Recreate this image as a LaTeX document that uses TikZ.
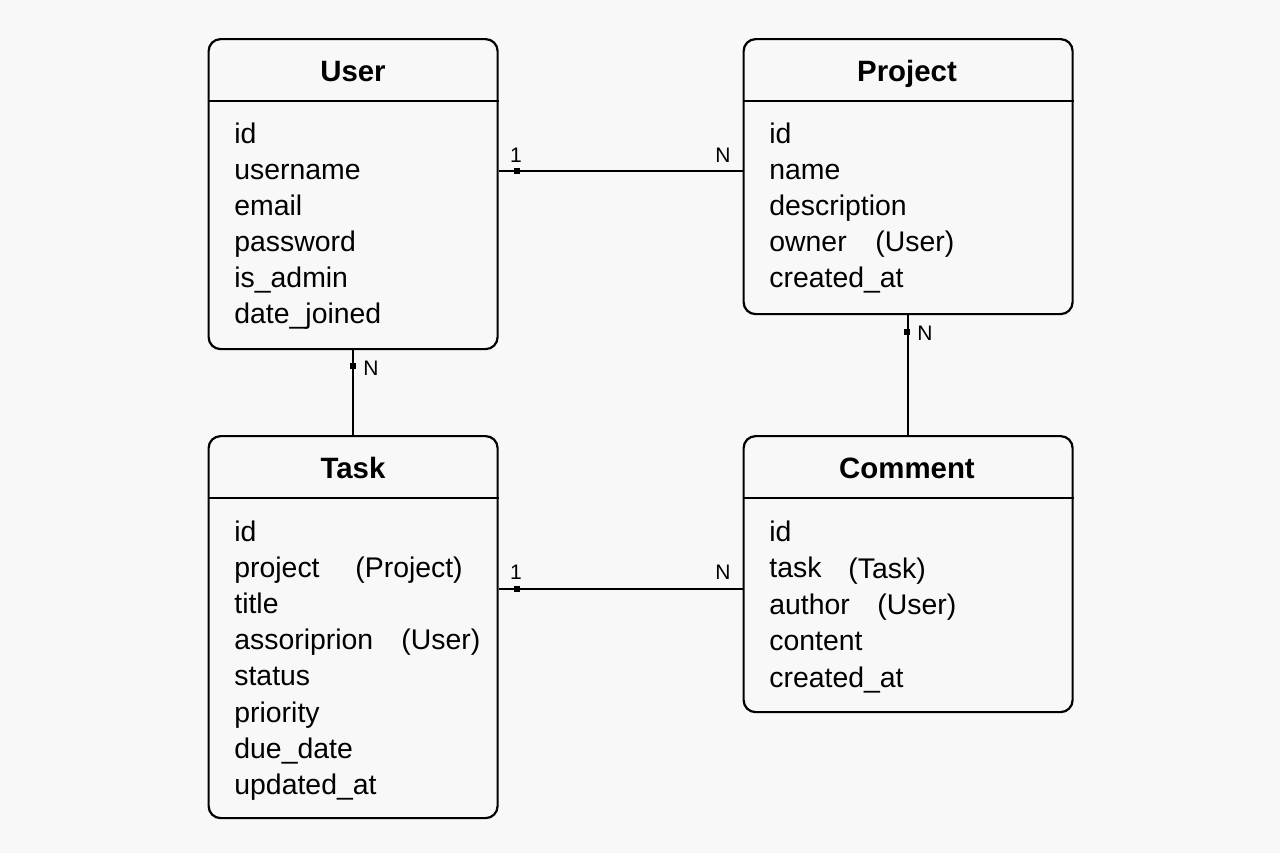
\documentclass[tikz,border=0pt]{standalone}
\usepackage{fontspec}
\setmainfont{Liberation Sans}
\usetikzlibrary{positioning}
\definecolor{paper}{RGB}{248,248,248}
\tikzset{
    entity/.style={draw, line width=1.1pt, rounded corners=6pt, anchor=north west, inner sep=0pt},
    ename/.style={anchor=base, inner sep=0pt, font=\bfseries\fontsize{14.7}{16}\selectfont},
    field/.style={anchor=base west, inner sep=0pt, font=\fontsize{14.2}{16}\selectfont},
    card/.style={inner sep=0pt, font=\fontsize{10.5}{12}\selectfont},
    tick/.style={fill, minimum size=2.8pt, inner sep=0pt},
    link/.style={line width=1.1pt},
}
\begin{document}
\begin{tikzpicture}[x=0.5pt, y=-0.5pt]
    \fill[paper] (0,0) rectangle (1280,853);
    % entities
    \node[entity, minimum width=144.5pt, minimum height=155pt] (user) at (207.5,38) {};
    \node[entity, minimum width=164.5pt, minimum height=137.5pt] (project) at (742.5,38) {};
    \node[entity, minimum width=144.5pt, minimum height=191pt] (task) at (207.5,435) {};
    \node[entity, minimum width=164.5pt, minimum height=138pt] (comment) at (742.5,435) {};
    \draw[line width=1.1pt] (user.west |- 0,101) -- (user.east |- 0,101);
    \draw[line width=1.1pt] (project.west |- 0,101) -- (project.east |- 0,101);
    \draw[line width=1.1pt] (task.west |- 0,498) -- (task.east |- 0,498);
    \draw[line width=1.1pt] (comment.west |- 0,498) -- (comment.east |- 0,498);
    \node[ename] (user-name) at (353,81) {User};
    \node[ename] (project-name) at (907,81) {Project};
    \node[ename] (task-name) at (353,478) {Task};
    \node[ename] (comment-name) at (907,478) {Comment};
    % fields
    \foreach \f [count=\i from 0] in {id, username, email, password, is\_admin, date\_joined}
        \node[field] at (234,143+36*\i) {\f};
    \foreach \f [count=\i from 0] in {id, name, description, owner, created\_at}
        \node[field] at (769,143+36*\i) {\f};
    \foreach \f [count=\i from 0] in {id, project, title, assoriprion, status, priority, due\_date, updated\_at}
        \node[field] at (234,541+36.2*\i) {\f};
    \foreach \f [count=\i from 0] in {id, task, author, content, created\_at}
        \node[field] at (769,541+36.5*\i) {\f};
    \node[field] (project-owner) at (875,251) {(User)};
    \node[field] (task-project) at (355,577) {(Project)};
    \node[field] (task-assign) at (401,649) {(User)};
    \node[field] (comment-task) at (848,578) {(Task)};
    \node[field] (comment-author) at (877,614) {(User)};
    % relations
    \coordinate (r-top) at (0,171);
    \coordinate (r-bot) at (0,589);
    \draw[link] (user.east |- r-top) -- (project.west |- r-top);
    \draw[link] (task.east |- r-bot) -- (comment.west |- r-bot);
    \draw[link] (user.south) -- (task.north);
    \draw[link] (project.south) -- (comment.north);
    \node[tick] (t1) at (517,171) {};
    \node[tick] (t2) at (517,589) {};
    \node[tick] (t3) at (353,366) {};
    \node[tick] (t4) at (907,332) {};
    \node[card] at (516,155) {1};
    \node[card] at (723,155) {N};
    \node[card] at (516,572) {1};
    \node[card] at (723,572) {N};
    \node[card] at (371,368) {N};
    \node[card] at (925,333) {N};
\end{tikzpicture}
\end{document}
